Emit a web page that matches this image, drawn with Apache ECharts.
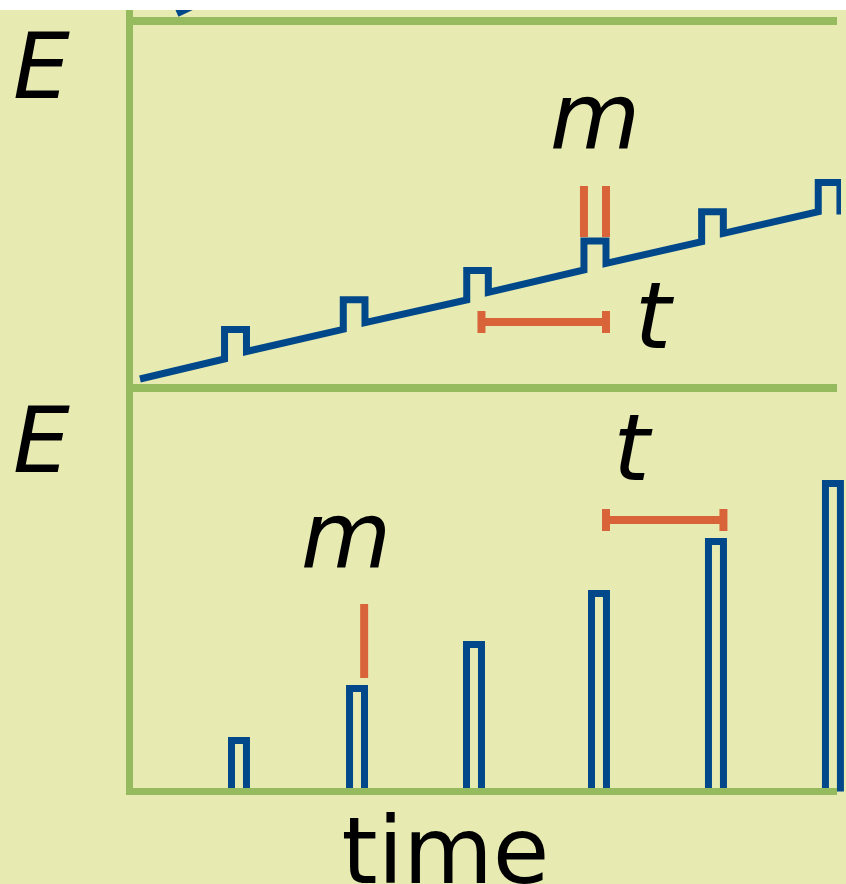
<!DOCTYPE html>
<html>
<head>
<meta charset="utf-8">
<script src="https://cdn.jsdelivr.net/npm/echarts@6/dist/echarts.min.js"></script>
<style>
  html, body { margin: 0; padding: 0; background: #ffffff; }
  #chart { position: absolute; left: 0; top: 10px; width: 846px; height: 874px; background: #e7ebb2; }
</style>
</head>
<body>
<div id="chart"></div>
<script>
// Start of the trace belonging to the panel above (only its tip is in view)
const upperTraceX = [4.03, 7.67];
const upperTraceE = [0.75, 2.77];

// Stored energy: steady linear rise, with a square bump of height m at each pulse
const traceStart = [0.89, 0.9];
const bumpStart  = [8.06, 18.13, 28.6, 38.54, 48.52, 58.41];
const bumpEnd    = [9.92, 19.97, 30.43, 40.41, 50.36, 60.25];
const baseBefore = [2.9, 5.87, 8.8, 11.8, 14.63, 17.63];
const bumpTop    = [5.85, 8.82, 11.75, 14.7, 17.63, 20.55];
const baseAfter  = [3.65, 6.53, 9.57, 12.47, 15.47, 17.35];

// Released energy: one narrow pulse per period t, growing each time
const pulseLeft  = [8.65, 18.66, 28.58, 39.18, 49.1, 59.02];
const pulseRight = [9.92, 19.93, 29.85, 40.45, 50.37, 60.29];
const pulseE     = [5.1, 10.3, 14.7, 19.8, 25.0, 30.8];

// Annotations: m markers (x, from, to) and t spans (from, to, level)
const mMarksTop    = [[38.54, 15.1, 20.2], [40.41, 15.1, 20.2]];
const tSpanTop     = [[29.85, 40.41, 6.6]];
const mMarksBottom = [[19.9, 11.35, 18.75]];
const tSpanBottom  = [[40.41, 50.37, 27.15]];

const axisLabelText = 'E';
const timeLabel = 'time';

const BLUE = '#00488a';
const GREEN = '#96ba5e';
const ORANGE = '#d9643a';

// Staircase points for the stored-energy trace
const storedPts = [traceStart];
for (let i = 0; i < bumpStart.length; i++) {
  storedPts.push([bumpStart[i], baseBefore[i]]);
  storedPts.push([bumpStart[i], bumpTop[i]]);
  storedPts.push([bumpEnd[i], bumpTop[i]]);
  storedPts.push([bumpEnd[i], baseAfter[i]]);
}
const upperPts = upperTraceX.map((x, i) => [x, upperTraceE[i]]);
const pulseData = pulseLeft.map((l, i) => [l, pulseRight[i], pulseE[i]]);

function hiddenAxisBits() {
  return { axisTick: { show: false }, axisLabel: { show: false }, splitLine: { show: false } };
}
function xAx(gridIndex, width, z) {
  return Object.assign({
    type: 'value', gridIndex, min: 0, max: 60, z: z || 0,
    axisLine: { show: true, onZero: false, lineStyle: { color: GREEN, width: width, cap: 'butt' } }
  }, hiddenAxisBits());
}
function yAx(gridIndex, max) {
  return Object.assign({
    type: 'value', gridIndex, min: 0, max: max,
    axisLine: { show: true, onZero: false, lineStyle: { color: GREEN, width: 7, cap: 'square' } }
  }, hiddenAxisBits());
}

function renderPulse(params, api) {
  const l = api.value(0), r = api.value(1), h = api.value(2);
  const pts = [api.coord([l, 0]), api.coord([l, h]), api.coord([r, h]), api.coord([r, 0])];
  return {
    type: 'polyline',
    shape: { points: pts },
    style: { stroke: BLUE, lineWidth: 7, fill: null, lineJoin: 'miter', lineCap: 'butt' }
  };
}
function renderMark(params, api) {
  const a = api.coord([api.value(0), api.value(1)]);
  const b = api.coord([api.value(0), api.value(2)]);
  return {
    type: 'line',
    shape: { x1: a[0], y1: a[1], x2: b[0], y2: b[1] },
    style: { stroke: ORANGE, lineWidth: 8, lineCap: 'butt' }
  };
}
function renderSpan(params, api) {
  const a = api.coord([api.value(0), api.value(2)]);
  const b = api.coord([api.value(1), api.value(2)]);
  const cap = 11;
  const st = { stroke: ORANGE, lineWidth: 8, lineCap: 'butt' };
  return {
    type: 'group',
    children: [
      { type: 'line', shape: { x1: a[0], y1: a[1], x2: b[0], y2: b[1] }, style: st },
      { type: 'line', shape: { x1: a[0], y1: a[1] - cap, x2: a[0], y2: a[1] + cap }, style: st },
      { type: 'line', shape: { x1: b[0], y1: b[1] - cap, x2: b[0], y2: b[1] + cap }, style: st }
    ]
  };
}

function label(text, x, y, size, italic, family) {
  return {
    type: 'text', x: x, y: y, z: 10,
    style: {
      text: text, fill: '#000000', fontSize: size,
      fontFamily: family || 'DejaVu Sans',
      fontStyle: italic ? 'italic' : 'normal',
      align: 'center', verticalAlign: 'middle'
    }
  };
}

const chart = echarts.init(document.getElementById('chart'), null, { renderer: 'canvas' });
chart.setOption({
  animation: false,
  backgroundColor: '#e7ebb2',
  grid: [
    { left: 129.5, right: 9, top: 11, height: 367, outerBoundsMode: 'none' },
    { left: 129.5, right: 9, top: 378, height: 403.5, outerBoundsMode: 'none' },
    { left: 129.5, right: 9, top: -89, height: 100, outerBoundsMode: 'none' }
  ],
  xAxis: [xAx(0, 8), xAx(1, 7, 5), xAx(2, 8)],
  yAxis: [yAx(0, 36.7), yAx(1, 40.35), yAx(2, 10)],
  series: [
    {
      type: 'line', xAxisIndex: 2, yAxisIndex: 2, data: upperPts,
      symbol: 'none', lineStyle: { color: BLUE, width: 7, cap: 'butt' }
    },
    {
      type: 'line', xAxisIndex: 0, yAxisIndex: 0, data: storedPts, clip: false,
      symbol: 'none', lineStyle: { color: BLUE, width: 7, join: 'miter', cap: 'butt' }
    },
    {
      type: 'custom', xAxisIndex: 1, yAxisIndex: 1, data: pulseData, clip: false,
      renderItem: renderPulse
    },
    { type: 'custom', xAxisIndex: 0, yAxisIndex: 0, data: mMarksTop, renderItem: renderMark },
    { type: 'custom', xAxisIndex: 0, yAxisIndex: 0, data: tSpanTop, renderItem: renderSpan },
    { type: 'custom', xAxisIndex: 1, yAxisIndex: 1, data: mMarksBottom, renderItem: renderMark },
    { type: 'custom', xAxisIndex: 1, yAxisIndex: 1, data: tSpanBottom, renderItem: renderSpan }
  ],
  graphic: [
    label(axisLabelText, 41.5, 64.5, 90, true),
    label(axisLabelText, 41.5, 438.5, 90, true),
    label('m', 595, 115, 93, true),
    label('t', 653, 314, 93, true),
    label('m', 346, 534, 93, true),
    label('t', 631.5, 446, 93, true),
    label(timeLabel, 445.5, 849, 92, false)
  ]
});
</script>
</body>
</html>
